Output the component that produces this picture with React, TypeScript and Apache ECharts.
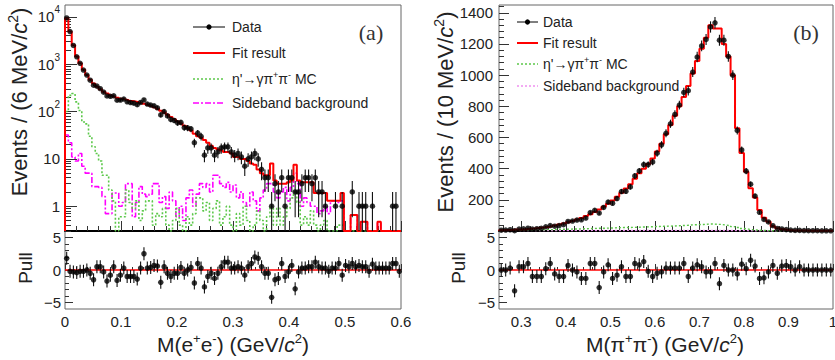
import React, { useEffect, useRef } from 'react';
import * as echarts from 'echarts';

// ---------------- panel (a): M(e+e-), 100 bins of 6 MeV from 0 to 0.6 ----------------
const A_X0 = 0;
const A_X1 = 0.6;
const A_BIN = 0.006;

const fitA = [
  9300, 4900, 2500, 1450, 1050, 760, 590, 470, 390, 335,
  295, 262, 240, 222, 208, 196, 186, 180, 174, 168,
  163, 158, 152, 146, 140, 132, 124, 114, 104, 95,
  86, 77, 69, 62, 56, 50, 45, 40, 34, 30,
  28, 25, 22, 19, 17, 16, 15, 14, 14, 13,
  11, 11, 10, 10, 9, 8, 7.5, 6, 5, 4.5,
  4.5, 8, 3.5, 3, 3, 3, 3.2, 3.5, 7.5, 3.5,
  3.2, 3.2, 3.2, 3.2, 1.9, 1.9, 1.9, 1.9, 1.3, 1.3,
  1.3, 1.3, 1.9, 0, 0, 0.65, 0.65, 0, 0.47, 0.47,
  0, 0, 0, 0.47, 0, 0, 0, 0, 0, 0,
];

const dataA = [
  9470, 4886, 2485, 1435, 1044, 754, 590, 459, 360, 344,
  304, 257, 214, 210, 215, 174, 175, 184, 161, 155,
  150, 140, 156, 176, 144, 137, 132, 120, 85, 100,
  81, 68, 65, 58, 59, 46, 45, 43, 22, 35,
  30, 12, 17, 17, 12, 14, 17, 18, 18, 14,
  12, 13, 11, 7, 10, 11, 13, 10, 6, 4,
  4, 1, 3, 2, 4, 1, 4, 4, 2, 2,
  3, 4, 4, 3, 4, 2, 2, 1, 0, 0,
  1, 0, 1, 0, 0, 2, 0, 1, 1, 1,
  0, 1, 0, 0, 0, 0, 0, 1, 1, 0,
];

const mcA = [
  100, 220, 240, 160, 105, 60, 55, 30, 18, 13,
  9, 4.5, 4.5, 2.2, 1.3, 0, 0.6, 0.6, 2.2, 1.2,
  0.9, 1.3, 0.5, 0.8, 1.3, 1.3, 0.4, 0.7, 0.6, 0.9,
  0.4, 0, 0.5, 0.9, 0.4, 0, 0.6, 0.4, 0.7, 1.5,
  1.5, 0.8, 1.2, 0.5, 0.9, 1.3, 0.4, 0.6, 1.0, 0.4,
  0, 0.7, 0.4, 1.0, 0.5, 0, 0.4, 0.8, 0.5, 0,
  0.6, 1.0, 0.4, 0.9, 0.4, 0.6, 0.9, 1.5, 2.0, 1.2,
  0.4, 0.6, 0.4, 0.8, 0.4, 0, 0.4, 0.5, 0, 0,
  0, 0.4, 0.4, 0, 0, 0, 0, 0, 0, 0,
  0, 0, 0, 0, 0, 0, 0, 0, 0, 0,
];

const sbA = [
  32, 22, 11, 9, 13, 7, 5, 5, 2.6, 2.6,
  2.5, 1.6, 0.7, 0.7, 1.9, 1.9, 1.0, 1.2, 3, 3,
  0.6, 1.2, 2.6, 1.8, 1.6, 1.8, 3, 3, 1.2, 1.6,
  0.9, 2.0, 1.3, 0.6, 1.0, 0.5, 1.5, 2.2, 1.0, 1.8,
  3.0, 2.5, 3.0, 2.0, 4.5, 4.5, 3.0, 2.5, 3.2, 2.0,
  2.8, 1.5, 2.0, 1.2, 1.0, 2.0, 1.3, 0.8, 1.5, 2.2,
  3.0, 3.0, 2.0, 1.5, 2.0, 2.5, 1.3, 2.5, 5.0, 3.0,
  1.0, 1.5, 1.2, 1.0, 1.0, 0.7, 0.8, 1.0, 0.7, 1.3,
  1.3, 1.2, 1.3, 0, 0, 0.65, 0.65, 0, 0.47, 0.47,
  0, 0, 0, 0.47, 0, 0, 0, 0, 0, 0,
];

const pullA = [
  1.8, -0.2, -0.3, -0.4, -0.2, -0.2, 0, -0.5, -1.5, 0.5,
  0.5, -0.3, -1.7, -0.8, 0.5, -1.6, -0.8, 0.3, -1.0, -1.0,
  -1.0, -1.4, 0.3, 2.5, 0.3, 0.4, 0.7, 0.6, -1.9, 0.5,
  -0.5, -1.0, -0.5, -0.5, 0.4, -0.5, 0, 0.4, -2.0, 1.0,
  0.3, -2.6, -1.0, -0.5, -1.3, -0.5, 0.5, 1.2, 1.2, 0.3,
  0.3, 0.5, 0.3, -0.8, 0.5, 1.0, 2.0, 1.8, 0.5, -0.5,
  -0.5, -4.2, -1.5, -1.3, 1.0, -1.0, -0.3, 0.7, -2.9, -0.3,
  0.3, 0.3, 0.5, 0.5, 1.2, 0.5, 0.3, 0.3, -0.2, 0.3,
  0.3, 1.0, -0.8, 0.7, 0.5, 1.0, 0.5, 0.7, 0.5, 0.5,
  -0.2, 0.9, 0.3, 0.3, 0.3, 0.3, 0.3, 1.0, 1.0, -0.2,
];

// ---------------- panel (b): M(pi+pi-), 75 bins of 10 MeV from 0.25 to 1.0 ----------------
const B_X0 = 0.25;
const B_X1 = 1.0;
const B_BIN = 0.01;

const fitB = [
  5, 6, 7, 9, 10, 12, 14, 16, 19, 22,
  26, 30, 35, 41, 48, 56, 64, 73, 84, 96,
  108, 122, 138, 155, 175, 196, 220, 245, 272, 300,
  335, 370, 400, 430, 465, 510, 560, 620, 680, 740,
  800, 860, 930, 1010, 1090, 1170, 1240, 1320, 1300, 1300,
  1200, 1120, 1000, 660, 500, 380, 275, 215, 135, 85,
  60, 30, 18, 11, 7, 5, 4, 3, 3, 2,
  2, 2, 1, 1, 1,
];

const dataB = [
  5, 6, 8, 2, 12, 14, 18, 12, 15, 17,
  27, 35, 31, 35, 41, 61, 64, 70, 72, 83,
  118, 133, 115, 151, 186, 178, 208, 253, 255, 283,
  353, 385, 426, 426, 443, 499, 553, 627, 688, 748,
  808, 889, 900, 1020, 1116, 1187, 1229, 1309, 1336, 1224,
  1224, 1120, 1000, 645, 520, 384, 300, 224, 120, 74,
  58, 34, 16, 13, 9, 6, 4, 4, 3, 2,
  2, 2, 1, 1, 1,
];

const mcB = [
  3, 4, 4, 5, 5, 6, 6, 7, 7, 8,
  9, 9, 10, 11, 11, 12, 13, 13, 14, 15,
  16, 17, 18, 18, 19, 20, 21, 22, 22, 23,
  24, 25, 26, 27, 28, 29, 30, 31, 32, 33,
  35, 36, 38, 40, 41, 42, 44, 45, 43, 42,
  38, 34, 28, 22, 16, 12, 8, 6, 4, 3,
  2, 2, 1, 1, 1, 1, 0, 0, 0, 0,
  0, 0, 0, 0, 0,
];

const sbB = [
  2, 2, 3, 2, 3, 3, 2, 3, 3, 3,
  3, 2, 3, 3, 3, 3, 4, 3, 3, 3,
  4, 3, 3, 4, 3, 3, 4, 3, 4, 3,
  4, 3, 4, 4, 3, 4, 4, 3, 4, 4,
  4, 3, 4, 4, 4, 3, 4, 4, 3, 3,
  3, 3, 3, 2, 3, 2, 2, 2, 2, 2,
  2, 1, 1, 1, 1, 1, 1, 1, 1, 1,
  1, 1, 1, 1, 1,
];

const pullB = [
  0, 0, 0.3, -3.2, 0.5, 0.5, 1.0, -1.0, -1.0, -1.0,
  0.2, 1.0, -0.6, -1.0, -1.0, 0.7, 0, -0.3, -1.3, -1.3,
  1.0, 1.0, -2.7, -0.3, 0.8, -1.3, -0.8, 0.5, -1.0, -1.0,
  1.0, 0.8, 1.3, -0.2, -1.0, -0.5, -0.3, 0.3, 0.3, 0.3,
  0.3, 1.0, -1.0, 0.3, 0.8, 0.5, -0.3, -0.3, 1.0, -2.1,
  0.7, 0, 0, -0.6, 0.9, 0.2, 1.5, 0.6, -1.3, -1.2,
  -0.3, 0.7, -0.5, 0.6, 0.7, 0.5, 0, 0.5, 0, 0,
  0, 0, 0, 0, 0,
];

// ---------------- axis ticks / labels ----------------
const A_X_TICKS = [0, 0.1, 0.2, 0.3, 0.4, 0.5, 0.6];
const A_Y_LOG_MIN = 0.3;
const A_Y_LOG_MAX = 17800;
const A_Y_LABELS = [1, 10, 100, 1000, 10000];
const B_X_TICKS = [0.3, 0.4, 0.5, 0.6, 0.7, 0.8, 0.9, 1.0];
const B_Y_MAX = 1450;
const B_Y_TICKS = [0, 200, 400, 600, 800, 1000, 1200, 1400];
const B_Y_LABELS = [200, 400, 600, 800, 1000, 1200, 1400];
const PULL_MIN = -6;
const PULL_MAX = 6;
const PULL_LABELS = [-5, 0, 5];
const PULL_MINOR = [-4, -3, -2, -1, 1, 2, 3, 4];

const A_X_MINOR: number[] = [];
for (let i = 1; i < 30; i++) if (i % 5 !== 0) A_X_MINOR.push(+(i * 0.02).toFixed(3));
const B_X_MINOR: number[] = [];
for (let i = 13; i < 50; i++) if (i % 5 !== 0) B_X_MINOR.push(+(i * 0.02).toFixed(3));
const A_Y_MINOR: number[] = [];
[0.1, 1, 10, 100, 1000, 10000].forEach((d) => {
  for (let m = 2; m <= 9; m++) {
    const v = m * d;
    if (v >= A_Y_LOG_MIN && v <= A_Y_LOG_MAX) A_Y_MINOR.push(v);
  }
});
const B_Y_MINOR: number[] = [];
for (let v = 40; v < B_Y_MAX; v += 40) if (v % 200 !== 0) B_Y_MINOR.push(v);

// ---------------- style ----------------
const FONT = '"Liberation Sans", Arial, Helvetica, sans-serif';
const SERIF = '"Liberation Serif", "DejaVu Serif", serif';
const TXT = '#222';
const FRAME = '#666';
const RED = '#ff0000';
const GREEN = '#5cc84a';
const MAGENTA = '#ff00ff';
const PINK = '#f090f0';

const G = {
  aMain: { left: 65, top: 5, width: 336, height: 226 },
  aPull: { left: 65, top: 231, width: 336, height: 78 },
  bMain: { left: 499, top: 5, width: 334, height: 226 },
  bPull: { left: 499, top: 231, width: 334, height: 78 },
};

function stepLine(x0: number, w: number, vals: number[], floor: number) {
  const pts: number[][] = [[x0, floor]];
  vals.forEach((v, i) => {
    const y = Math.max(v, floor);
    pts.push([x0 + i * w, y], [x0 + (i + 1) * w, y]);
  });
  pts.push([x0 + vals.length * w, floor]);
  return pts;
}

function points(x0: number, w: number, vals: number[]) {
  const out: number[][] = [];
  vals.forEach((v, i) => {
    if (v > 0) out.push([x0 + (i + 0.5) * w, v]);
  });
  return out;
}

function poissonBars(x0: number, w: number, vals: number[], lo: number, hi: number) {
  const out: number[][] = [];
  vals.forEach((v, i) => {
    if (v > 0) {
      const e = Math.sqrt(v);
      out.push([x0 + (i + 0.5) * w, Math.max(v - e, lo), Math.min(v + e, hi)]);
    }
  });
  return out;
}

function pullBars(x0: number, w: number, vals: number[]) {
  return vals.map((v, i) => [x0 + (i + 0.5) * w, Math.max(v - 1, PULL_MIN), Math.min(v + 1, PULL_MAX)]);
}

const errSeries = (xi: number, yi: number, data: number[][]) => ({
  type: 'custom',
  xAxisIndex: xi,
  yAxisIndex: yi,
  data,
  encode: { x: 0, y: [1, 2] },
  z: 4,
  silent: true,
  renderItem: (_p: any, api: any) => {
    const x = api.value(0);
    const a = api.coord([x, api.value(1)]);
    const b = api.coord([x, api.value(2)]);
    return {
      type: 'line',
      shape: { x1: a[0], y1: a[1], x2: b[0], y2: b[1] },
      style: { stroke: '#111', lineWidth: 1.1 },
    };
  },
});

const histSeries = (xi: number, yi: number, data: number[][], color: string, width: number, dash: any, z: number) => ({
  type: 'line',
  xAxisIndex: xi,
  yAxisIndex: yi,
  data,
  showSymbol: false,
  symbol: 'none',
  clip: true,
  z,
  lineStyle: { color, width, type: dash },
});

const dotSeries = (xi: number, yi: number, data: number[][]) => ({
  type: 'scatter',
  xAxisIndex: xi,
  yAxisIndex: yi,
  data,
  symbol: 'circle',
  symbolSize: 5.5,
  itemStyle: { color: '#000' },
  z: 5,
});

const fmtNum = (v: number) => String(+(+v).toFixed(2));
const fmtInt = (v: number) => String(Math.round(v));
const fmtPull = (v: number) => (v < 0 ? '\u2212' + String(Math.abs(Math.round(v))) : String(Math.round(v)));
const fmtLog = (v: number) => {
  const e = Math.round(Math.log10(v));
  if (e === 0) return '1';
  if (e === 1) return '10';
  return '10{s|' + e + '}';
};

const labelStyle = { fontFamily: FONT, fontSize: 15, color: TXT };

function xAxes(grid: number, min: number, max: number, major: number[], minor: number[], showLabels: boolean, main: boolean) {
  return [
    {
      type: 'value', gridIndex: grid, min, max, position: 'bottom',
      axisLine: main
        ? { show: true, onZero: false, lineStyle: { color: '#000', width: 2 } }
        : { show: false },
      axisTick: { show: true, inside: true, length: main ? 10 : 6, customValues: major, lineStyle: { color: '#333', width: 1 } },
      axisLabel: showLabels
        ? { show: true, customValues: major, formatter: fmtNum, margin: 5, ...labelStyle }
        : { show: false },
      splitLine: { show: false },
    },
    {
      type: 'value', gridIndex: grid, min, max, position: 'bottom',
      axisLine: { show: false },
      axisTick: { show: true, inside: true, length: main ? 5 : 3, customValues: minor, lineStyle: { color: '#333', width: 1 } },
      axisLabel: { show: false },
      splitLine: { show: false },
    },
  ];
}

function buildOption(): any {
  const grids = [G.aMain, G.aPull, G.bMain, G.bPull].map((g) => ({
    ...g,
    show: true,
    borderColor: FRAME,
    borderWidth: 1,
    backgroundColor: 'transparent',
    outerBoundsMode: 'none',
    containLabel: false,
  }));

  const xAxis = [
    ...xAxes(0, A_X0, A_X1, A_X_TICKS, A_X_MINOR, false, true),
    ...xAxes(1, A_X0, A_X1, A_X_TICKS, A_X_MINOR, true, false),
    ...xAxes(2, B_X0, B_X1, B_X_TICKS, B_X_MINOR, false, true),
    ...xAxes(3, B_X0, B_X1, B_X_TICKS, B_X_MINOR, true, false),
  ];

  const yCommon = { position: 'left', axisLine: { show: false }, splitLine: { show: false } };
  const yAxis = [
    {
      ...yCommon, type: 'log', logBase: 10, gridIndex: 0, min: A_Y_LOG_MIN, max: A_Y_LOG_MAX,
      axisTick: { show: true, inside: true, length: 12, customValues: A_Y_LABELS, lineStyle: { color: '#333' } },
      axisLabel: {
        show: true, customValues: A_Y_LABELS, formatter: fmtLog, margin: 5, lineHeight: 24, ...labelStyle,
        rich: { s: { fontFamily: FONT, fontSize: 10, color: TXT, verticalAlign: 'top', lineHeight: 12 } },
      },
    },
    {
      ...yCommon, type: 'log', logBase: 10, gridIndex: 0, min: A_Y_LOG_MIN, max: A_Y_LOG_MAX,
      axisTick: { show: true, inside: true, length: 6, customValues: A_Y_MINOR, lineStyle: { color: '#333' } },
      axisLabel: { show: false },
    },
    {
      ...yCommon, type: 'value', gridIndex: 1, min: PULL_MIN, max: PULL_MAX,
      axisTick: { show: true, inside: true, length: 8, customValues: PULL_LABELS, lineStyle: { color: '#333' } },
      axisLabel: { show: true, customValues: PULL_LABELS, formatter: fmtPull, margin: 4, ...labelStyle },
    },
    {
      ...yCommon, type: 'value', gridIndex: 1, min: PULL_MIN, max: PULL_MAX,
      axisTick: { show: true, inside: true, length: 4, customValues: PULL_MINOR, lineStyle: { color: '#333' } },
      axisLabel: { show: false },
    },
    {
      ...yCommon, type: 'value', gridIndex: 2, min: 0, max: B_Y_MAX,
      axisTick: { show: true, inside: true, length: 10, customValues: B_Y_TICKS, lineStyle: { color: '#333' } },
      axisLabel: { show: true, customValues: B_Y_LABELS, formatter: fmtInt, margin: 6, ...labelStyle },
    },
    {
      ...yCommon, type: 'value', gridIndex: 2, min: 0, max: B_Y_MAX,
      axisTick: { show: true, inside: true, length: 5, customValues: B_Y_MINOR, lineStyle: { color: '#333' } },
      axisLabel: { show: false },
    },
    {
      ...yCommon, type: 'value', gridIndex: 3, min: PULL_MIN, max: PULL_MAX,
      axisTick: { show: true, inside: true, length: 8, customValues: PULL_LABELS, lineStyle: { color: '#333' } },
      axisLabel: { show: true, customValues: PULL_LABELS, formatter: fmtPull, margin: 4, ...labelStyle },
    },
    {
      ...yCommon, type: 'value', gridIndex: 3, min: PULL_MIN, max: PULL_MAX,
      axisTick: { show: true, inside: true, length: 4, customValues: PULL_MINOR, lineStyle: { color: '#333' } },
      axisLabel: { show: false },
    },
  ];

  const series: any[] = [
    // panel (a) main
    histSeries(0, 0, stepLine(A_X0, A_BIN, sbA, A_Y_LOG_MIN), MAGENTA, 1.6, [6, 2, 2, 2], 1),
    histSeries(0, 0, stepLine(A_X0, A_BIN, mcA, A_Y_LOG_MIN), GREEN, 1.6, [2, 2], 2),
    errSeries(0, 0, poissonBars(A_X0, A_BIN, dataA, A_Y_LOG_MIN, A_Y_LOG_MAX)),
    dotSeries(0, 0, points(A_X0, A_BIN, dataA)),
    histSeries(0, 0, stepLine(A_X0, A_BIN, fitA, A_Y_LOG_MIN), RED, 2, 'solid', 3),
    // panel (a) pull
    histSeries(2, 2, [[A_X0, 0], [A_X1, 0]], RED, 1.3, 'solid', 2),
    errSeries(2, 2, pullBars(A_X0, A_BIN, pullA)),
    dotSeries(2, 2, pullA.map((v, i) => [A_X0 + (i + 0.5) * A_BIN, v])),
    // panel (b) main
    histSeries(4, 4, stepLine(B_X0, B_BIN, sbB, 0), PINK, 1.4, [2, 2], 1),
    histSeries(4, 4, stepLine(B_X0, B_BIN, mcB, 0), GREEN, 1.4, [2, 2], 2),
    histSeries(4, 4, stepLine(B_X0, B_BIN, fitB, 0), RED, 2, 'solid', 3),
    errSeries(4, 4, poissonBars(B_X0, B_BIN, dataB, 0, B_Y_MAX)),
    dotSeries(4, 4, points(B_X0, B_BIN, dataB)),
    // panel (b) pull
    histSeries(6, 6, [[B_X0, 0], [B_X1, 0]], RED, 1.3, 'solid', 2),
    errSeries(6, 6, pullBars(B_X0, B_BIN, pullB)),
    dotSeries(6, 6, pullB.map((v, i) => [B_X0 + (i + 0.5) * B_BIN, v])),
  ];

  const rich = (size: number) => ({
    s: { fontFamily: FONT, fontSize: Math.round(size * 0.62), fill: TXT, verticalAlign: 'top', lineHeight: Math.round(size * 0.7) },
    i: { fontFamily: FONT, fontSize: size, fontStyle: 'italic', fill: TXT },
  });
  const title = (text: string, x: number, y: number, size: number, rot: number) => ({
    type: 'text', x, y, rotation: rot, silent: true,
    style: {
      text, fontFamily: FONT, fontSize: size, fill: TXT, align: 'center', verticalAlign: 'middle',
      lineHeight: Math.round(size * 1.2), rich: rich(size),
    },
  });
  const legText = (text: string, x: number, y: number) => ({
    type: 'text', x, y, silent: true,
    style: {
      text, fontFamily: FONT, fontSize: 14, fill: TXT, align: 'left', verticalAlign: 'middle',
      lineHeight: 18, rich: rich(14),
    },
  });
  const legLine = (x1: number, x2: number, y: number, color: string, w: number, dash?: number[]) => ({
    type: 'line', silent: true,
    shape: { x1, y1: y, x2, y2: y },
    style: { stroke: color, lineWidth: w, lineDash: dash || null },
  });
  const legend = (x1: number, x2: number, tx: number, ys: number[], sbColor: string) => [
    legLine(x1, x2, ys[0], '#000', 1),
    { type: 'circle', silent: true, shape: { cx: (x1 + x2) / 2, cy: ys[0], r: 2.6 }, style: { fill: '#000' } },
    legText('Data', tx, ys[0]),
    legLine(x1, x2, ys[1], RED, 2),
    legText('Fit result', tx, ys[1]),
    legLine(x1, x2, ys[2], GREEN, 1.6, [2, 2]),
    legText("\u03b7'\u2192\u03b3\u03c0{s|+}\u03c0{s|-} MC", tx, ys[2]),
    legLine(x1, x2, ys[3], sbColor, 1.6, sbColor === MAGENTA ? [6, 2, 2, 2] : [2, 2]),
    legText('Sideband background', tx, ys[3]),
  ];

  const graphic = [
    title('Events / (6 MeV/{i|c}{s|2})', 19, 102, 22, Math.PI / 2),
    title('Pull', 25, 268, 19, Math.PI / 2),
    title('M(e{s|+}e{s|-}) (GeV/{i|c}{s|2})', 233, 344, 21, 0),
    title('Events / (10 MeV/{i|c}{s|2})', 445, 112, 22, Math.PI / 2),
    title('Pull', 458, 268, 19, Math.PI / 2),
    title('M(\u03c0{s|+}\u03c0{s|-}) (GeV/{i|c}{s|2})', 665, 344, 21, 0),
    ...legend(193, 225, 232, [27, 53, 79, 103], MAGENTA),
    ...legend(517, 538, 543, [22, 43, 64, 86], PINK),
    {
      type: 'text', x: 371, y: 32, silent: true,
      style: { text: '(a)', fontFamily: SERIF, fontSize: 22, fill: '#333', align: 'center', verticalAlign: 'middle' },
    },
    {
      type: 'text', x: 806, y: 32, silent: true,
      style: { text: '(b)', fontFamily: SERIF, fontSize: 22, fill: '#333', align: 'center', verticalAlign: 'middle' },
    },
  ];

  return {
    animation: false,
    backgroundColor: '#ffffff',
    grid: grids,
    xAxis,
    yAxis,
    series,
    graphic,
  };
}

export default function App() {
  const ref = useRef<HTMLDivElement>(null);
  useEffect(() => {
    if (!ref.current) return;
    const chart = echarts.init(ref.current, undefined, { renderer: 'svg' });
    chart.setOption(buildOption());
    return () => chart.dispose();
  }, []);
  return (
    <div
      ref={ref}
      style={{ position: 'fixed', left: 0, top: 0, width: 835, height: 360, background: '#fff' }}
    />
  );
}
